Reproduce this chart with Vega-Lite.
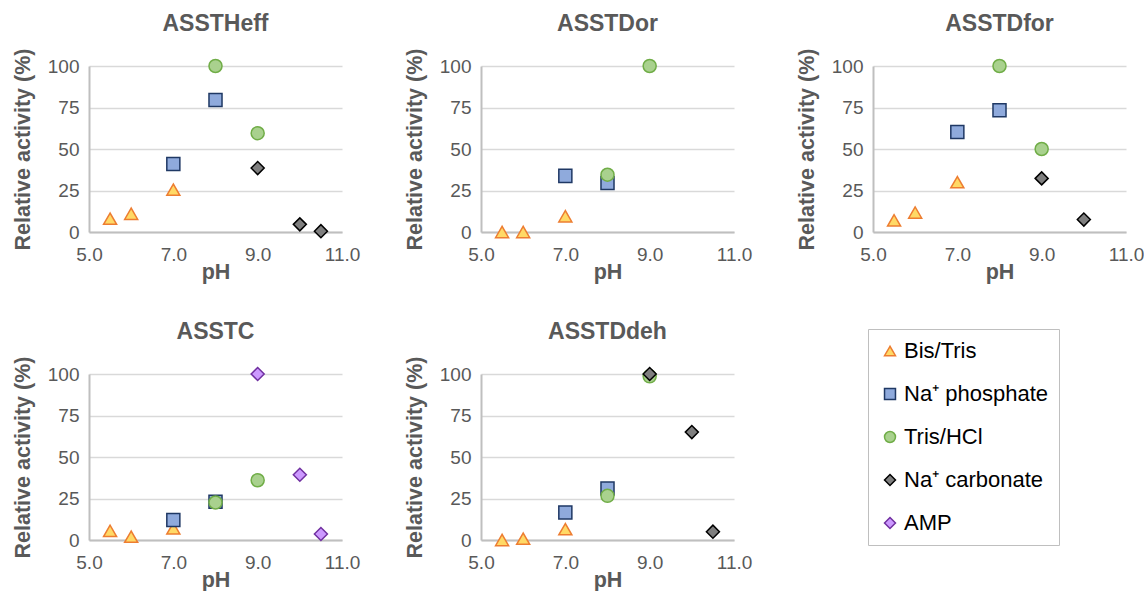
{
  "$schema": "https://vega.github.io/schema/vega-lite/v6.json",
  "padding": {"left": 12, "top": 13, "right": 0, "bottom": 0},
  "background": "white",
  "config": {
    "font": "Liberation Sans",
    "view": {"stroke": null},
    "title": {"font": "Liberation Sans", "fontSize": 23, "fontWeight": "bold", "color": "#595959", "offset": 12},
    "axis": {
      "labelFont": "Liberation Sans", "labelFontSize": 19, "labelColor": "#595959",
      "titleFont": "Liberation Sans", "titleFontSize": 21.5, "titleFontWeight": "bold", "titleColor": "#595959",
      "domainColor": "#bfbfbf", "domainWidth": 2, "ticks": false,
      "gridColor": "#d9d9d9", "gridWidth": 1.5
    },
    "axisX": {"grid": false, "labelPadding": 13, "titlePadding": -3, "labelFlush": false},
    "axisY": {"labelPadding": 10, "titlePadding": 13},
    "legend": {
      "orient": "none", "legendX": 779, "legendY": 263,
      "strokeColor": "#bfbfbf", "padding": 11, "rowPadding": 21,
      "labelFont": "Liberation Sans", "labelFontSize": 22, "labelColor": "#000000",
      "labelOffset": 3, "symbolSize": 120, "symbolStrokeWidth": 1.5, "labelLimit": 300
    }
  },
  "data": {"values": [
    {"panel": "Heff", "buffer": "Bis/Tris", "pH": 5.5, "activity": 8},
    {"panel": "Heff", "buffer": "Bis/Tris", "pH": 6.0, "activity": 11},
    {"panel": "Heff", "buffer": "Bis/Tris", "pH": 7.0, "activity": 25.5},
    {"panel": "Heff", "buffer": "Na⁺ phosphate", "pH": 7.0, "activity": 41},
    {"panel": "Heff", "buffer": "Na⁺ phosphate", "pH": 8.0, "activity": 79.5},
    {"panel": "Heff", "buffer": "Tris/HCl", "pH": 8.0, "activity": 100},
    {"panel": "Heff", "buffer": "Tris/HCl", "pH": 9.0, "activity": 59.5},
    {"panel": "Heff", "buffer": "Na⁺ carbonate", "pH": 9.0, "activity": 38.5},
    {"panel": "Heff", "buffer": "Na⁺ carbonate", "pH": 10.0, "activity": 4.6},
    {"panel": "Heff", "buffer": "Na⁺ carbonate", "pH": 10.5, "activity": 0.5},

    {"panel": "Dor", "buffer": "Bis/Tris", "pH": 5.5, "activity": 0},
    {"panel": "Dor", "buffer": "Bis/Tris", "pH": 6.0, "activity": 0},
    {"panel": "Dor", "buffer": "Bis/Tris", "pH": 7.0, "activity": 9.5},
    {"panel": "Dor", "buffer": "Na⁺ phosphate", "pH": 7.0, "activity": 33.8},
    {"panel": "Dor", "buffer": "Na⁺ phosphate", "pH": 8.0, "activity": 29.5},
    {"panel": "Dor", "buffer": "Tris/HCl", "pH": 8.0, "activity": 34.5},
    {"panel": "Dor", "buffer": "Tris/HCl", "pH": 9.0, "activity": 100},

    {"panel": "Dfor", "buffer": "Bis/Tris", "pH": 5.5, "activity": 7},
    {"panel": "Dfor", "buffer": "Bis/Tris", "pH": 6.0, "activity": 11.7},
    {"panel": "Dfor", "buffer": "Bis/Tris", "pH": 7.0, "activity": 30},
    {"panel": "Dfor", "buffer": "Na⁺ phosphate", "pH": 7.0, "activity": 60.2},
    {"panel": "Dfor", "buffer": "Na⁺ phosphate", "pH": 8.0, "activity": 73.3},
    {"panel": "Dfor", "buffer": "Tris/HCl", "pH": 8.0, "activity": 100},
    {"panel": "Dfor", "buffer": "Tris/HCl", "pH": 9.0, "activity": 50},
    {"panel": "Dfor", "buffer": "Na⁺ carbonate", "pH": 9.0, "activity": 32.3},
    {"panel": "Dfor", "buffer": "Na⁺ carbonate", "pH": 10.0, "activity": 7.5},

    {"panel": "C", "buffer": "Bis/Tris", "pH": 5.5, "activity": 5.5},
    {"panel": "C", "buffer": "Bis/Tris", "pH": 6.0, "activity": 2},
    {"panel": "C", "buffer": "Bis/Tris", "pH": 7.0, "activity": 7},
    {"panel": "C", "buffer": "Na⁺ phosphate", "pH": 7.0, "activity": 12},
    {"panel": "C", "buffer": "Na⁺ phosphate", "pH": 8.0, "activity": 23},
    {"panel": "C", "buffer": "Tris/HCl", "pH": 8.0, "activity": 22.6},
    {"panel": "C", "buffer": "Tris/HCl", "pH": 9.0, "activity": 36},
    {"panel": "C", "buffer": "AMP", "pH": 9.0, "activity": 100},
    {"panel": "C", "buffer": "AMP", "pH": 10.0, "activity": 39.3},
    {"panel": "C", "buffer": "AMP", "pH": 10.5, "activity": 3.6},

    {"panel": "Ddeh", "buffer": "Bis/Tris", "pH": 5.5, "activity": 0},
    {"panel": "Ddeh", "buffer": "Bis/Tris", "pH": 6.0, "activity": 0.8},
    {"panel": "Ddeh", "buffer": "Bis/Tris", "pH": 7.0, "activity": 6.5},
    {"panel": "Ddeh", "buffer": "Na⁺ phosphate", "pH": 7.0, "activity": 16.6},
    {"panel": "Ddeh", "buffer": "Na⁺ phosphate", "pH": 8.0, "activity": 31},
    {"panel": "Ddeh", "buffer": "Tris/HCl", "pH": 8.0, "activity": 26.6},
    {"panel": "Ddeh", "buffer": "Tris/HCl", "pH": 9.0, "activity": 98.6},
    {"panel": "Ddeh", "buffer": "Na⁺ carbonate", "pH": 9.0, "activity": 100},
    {"panel": "Ddeh", "buffer": "Na⁺ carbonate", "pH": 10.0, "activity": 65},
    {"panel": "Ddeh", "buffer": "Na⁺ carbonate", "pH": 10.5, "activity": 5}
  ]},
  "vconcat": [
    {"spacing": 44, "hconcat": [
      {"width": 253, "height": 166, "title": "ASSTHeff",
       "transform": [{"filter": "datum.panel === 'Heff'"}],
       "mark": {"type": "point", "filled": true, "size": 170, "strokeWidth": 1.5, "opacity": 1},
       "encoding": {
         "x": {"field": "pH", "type": "quantitative", "scale": {"domain": [5, 11], "nice": false, "zero": false}, "axis": {"values": [5, 7, 9, 11], "format": ".1f", "title": "pH"}},
         "y": {"field": "activity", "type": "quantitative", "scale": {"domain": [0, 100], "nice": false}, "axis": {"values": [0, 25, 50, 75, 100], "title": "Relative activity (%)"}},
         "fill": {"field": "buffer", "type": "nominal", "scale": {"domain": ["Bis/Tris", "Na⁺ phosphate", "Tris/HCl", "Na⁺ carbonate", "AMP"], "range": ["#FFD966", "#8FAADC", "#A9D18E", "#7F7F7F", "#CC99FF"]}, "legend": null},
         "stroke": {"field": "buffer", "type": "nominal", "scale": {"domain": ["Bis/Tris", "Na⁺ phosphate", "Tris/HCl", "Na⁺ carbonate", "AMP"], "range": ["#ED7D31", "#1F3864", "#70AD47", "#000000", "#7030A0"]}, "legend": null},
         "shape": {"field": "buffer", "type": "nominal", "scale": {"domain": ["Bis/Tris", "Na⁺ phosphate", "Tris/HCl", "Na⁺ carbonate", "AMP"], "range": ["triangle-up", "square", "circle", "diamond", "diamond"]},
           "legend": {"title": null, "encode": {"symbols": {
             "fill": {"value": {"expr": "datum.value === 'Na⁺ phosphate' ? '#2E75B6' : datum.value === 'Tris/HCl' ? '#A9D18E' : datum.value === 'Bis/Tris' ? '#FFD966' : datum.value === 'AMP' ? '#CC99FF' : '#7F7F7F'"}},
             "stroke": {"value": {"expr": "datum.value === 'Na⁺ phosphate' || datum.value === 'Tris/HCl' ? 'transparent' : datum.value === 'Bis/Tris' ? '#ED7D31' : datum.value === 'AMP' ? '#7030A0' : '#000000'"}},
             "size": {"value": {"expr": "datum.value === 'Bis/Tris' ? 200 : 110"}}}}}}
       }},
      {"width": 253, "height": 166, "title": "ASSTDor",
       "transform": [{"filter": "datum.panel === 'Dor'"}],
       "mark": {"type": "point", "filled": true, "size": 170, "strokeWidth": 1.5, "opacity": 1},
       "encoding": {
         "x": {"field": "pH", "type": "quantitative", "scale": {"domain": [5, 11], "nice": false, "zero": false}, "axis": {"values": [5, 7, 9, 11], "format": ".1f", "title": "pH"}},
         "y": {"field": "activity", "type": "quantitative", "scale": {"domain": [0, 100], "nice": false}, "axis": {"values": [0, 25, 50, 75, 100], "title": "Relative activity (%)"}},
         "fill": {"field": "buffer", "type": "nominal", "legend": null},
         "stroke": {"field": "buffer", "type": "nominal", "legend": null},
         "shape": {"field": "buffer", "type": "nominal"}
       }},
      {"width": 253, "height": 166, "title": "ASSTDfor",
       "transform": [{"filter": "datum.panel === 'Dfor'"}],
       "mark": {"type": "point", "filled": true, "size": 170, "strokeWidth": 1.5, "opacity": 1},
       "encoding": {
         "x": {"field": "pH", "type": "quantitative", "scale": {"domain": [5, 11], "nice": false, "zero": false}, "axis": {"values": [5, 7, 9, 11], "format": ".1f", "title": "pH"}},
         "y": {"field": "activity", "type": "quantitative", "scale": {"domain": [0, 100], "nice": false}, "axis": {"values": [0, 25, 50, 75, 100], "title": "Relative activity (%)"}},
         "fill": {"field": "buffer", "type": "nominal", "legend": null},
         "stroke": {"field": "buffer", "type": "nominal", "legend": null},
         "shape": {"field": "buffer", "type": "nominal"}
       }}
    ]},
    {"spacing": 44, "hconcat": [
      {"width": 253, "height": 166, "title": "ASSTC",
       "transform": [{"filter": "datum.panel === 'C'"}],
       "mark": {"type": "point", "filled": true, "size": 170, "strokeWidth": 1.5, "opacity": 1},
       "encoding": {
         "x": {"field": "pH", "type": "quantitative", "scale": {"domain": [5, 11], "nice": false, "zero": false}, "axis": {"values": [5, 7, 9, 11], "format": ".1f", "title": "pH"}},
         "y": {"field": "activity", "type": "quantitative", "scale": {"domain": [0, 100], "nice": false}, "axis": {"values": [0, 25, 50, 75, 100], "title": "Relative activity (%)"}},
         "fill": {"field": "buffer", "type": "nominal", "legend": null},
         "stroke": {"field": "buffer", "type": "nominal", "legend": null},
         "shape": {"field": "buffer", "type": "nominal"}
       }},
      {"width": 253, "height": 166, "title": "ASSTDdeh",
       "transform": [{"filter": "datum.panel === 'Ddeh'"}],
       "mark": {"type": "point", "filled": true, "size": 170, "strokeWidth": 1.5, "opacity": 1},
       "encoding": {
         "x": {"field": "pH", "type": "quantitative", "scale": {"domain": [5, 11], "nice": false, "zero": false}, "axis": {"values": [5, 7, 9, 11], "format": ".1f", "title": "pH"}},
         "y": {"field": "activity", "type": "quantitative", "scale": {"domain": [0, 100], "nice": false}, "axis": {"values": [0, 25, 50, 75, 100], "title": "Relative activity (%)"}},
         "fill": {"field": "buffer", "type": "nominal", "legend": null},
         "stroke": {"field": "buffer", "type": "nominal", "legend": null},
         "shape": {"field": "buffer", "type": "nominal"}
       }}
    ]}
  ],
  "spacing": 38
}
